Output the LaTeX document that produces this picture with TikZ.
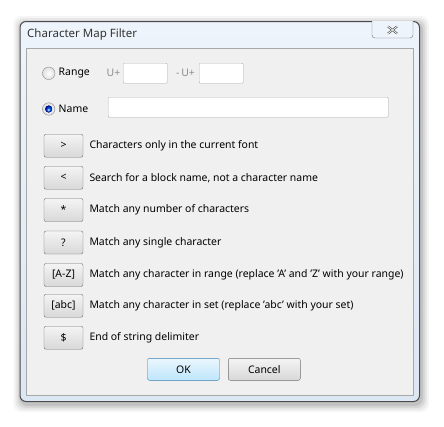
\documentclass[tikz,border=0pt]{standalone}
\usepackage{fontspec}
\setmainfont{Noto Sans}
\usetikzlibrary{shadings}
\definecolor{framebg}{HTML}{DCE7F4}
\definecolor{framehi}{HTML}{EEF4FB}
\definecolor{panelbg}{HTML}{F0F0F0}
\definecolor{panelln}{HTML}{A8A8A8}
\definecolor{btnln}{HTML}{707070}
\definecolor{btntop}{HTML}{F4F4F4}
\definecolor{btnbot}{HTML}{D8D8D8}
\definecolor{okln}{HTML}{3C7FB1}
\definecolor{oktop}{HTML}{EAF6FD}
\definecolor{okbot}{HTML}{BEE6FD}
\definecolor{graytxt}{HTML}{8D8D8D}
\definecolor{fieldln}{HTML}{ABADB3}
\tikzset{
  uifont/.style={font=\fontsize{10.45}{12}\selectfont},
  txt/.style={uifont, text=black, inner sep=0pt, anchor=west},
  btn/.style={draw=btnln, rounded corners=2pt, top color=btntop, bottom color=btnbot, minimum width=39pt, minimum height=23pt, inner sep=0pt, uifont},
  okbtn/.style={btn, draw=okln, top color=oktop, bottom color=okbot, minimum width=72pt, minimum height=22pt},
  cnbtn/.style={btn, minimum width=72pt, minimum height=22pt},
  field/.style={draw=fieldln, fill=white, rounded corners=1pt, inner sep=0pt, anchor=north west},
  radio/.style={circle, draw=gray!90, inner color=white, outer color=gray!25, minimum size=12.5pt, inner sep=0pt},
}
\begin{document}
\begin{tikzpicture}[x=1pt,y=-1pt]
\useasboundingbox (0,0) rectangle (444,426);
\fill[white] (0,0) rectangle (444,426);
% shadow
\foreach \d/\o in {8/0.04,6/0.05,4/0.07,2/0.09}{
  \fill[black, opacity=\o, rounded corners=8pt] (19.5-\d+2,21-\d+3) rectangle (419+\d+2,401+\d+3);
}
% window frame
\node[draw=black!70, line width=1pt, rounded corners=6pt, top color=framehi, bottom color=framebg, minimum width=399.5pt, minimum height=380pt, anchor=north west, inner sep=0pt] (win) at (19.5,21) {};
\node[txt, text=black!80, font=\fontsize{11.5}{13}\selectfont] (title) at (27,34.5) {Character Map Filter};
% close button
\draw[draw=black!55, fill=framehi, rounded corners=3pt] (372,21) -- (372,38) -- (413,38) -- (413,21);
\node[inner sep=0pt] (closebtn) at (392.5,30) {};
\draw[black!70, line width=2pt] (388,26.5) -- (397,33.5) (397,26.5) -- (388,33.5);
\draw[white, line width=0.7pt] (388,26.5) -- (397,33.5) (397,26.5) -- (388,33.5);
% inner panel
\node[draw=panelln, fill=panelbg, minimum width=387pt, minimum height=347pt, anchor=north west, inner sep=0pt] (panel) at (26,48) {};
% range row
\node[radio] (rrange) at (48.7,73.3) {};
\node[txt] (lrange) at (58.5,73.3) {Range};
\node[txt, text=graytxt] (u1) at (106.5,73.3) {U+};
\node[field, minimum width=44pt, minimum height=20pt] (f1) at (123,63) {};
\node[txt, text=graytxt] (u2) at (176,73.3) {-\,U+};
\node[field, minimum width=44pt, minimum height=20pt] (f2) at (199,63) {};
% name row
\node[radio] (rname) at (48.7,109) {};
\fill[inner color=cyan!60!blue, outer color=blue!60!black] (rname.center) circle (3.5pt);
\fill[white, opacity=0.6] ([yshift=-1.2pt]rname.center) circle (1.3pt);
\node[txt] (lname) at (58.5,109) {Name};
\node[field, minimum width=280pt, minimum height=20pt] (fname) at (108,97) {};
% help rows
\node[btn] (b1) at (63.5,145.7) {>};
\node[txt] (t1) at (89.3,145.7) {Characters only in the current font};
\node[btn] (b2) at (63.5,177.7) {<};
\node[txt] (t2) at (89.3,177.7) {Search for a block name, not a character name};
\node[btn] (b3) at (63.5,210) {*};
\node[txt] (t3) at (89.3,210) {Match any number of characters};
\node[btn] (b4) at (63.5,242.5) {?};
\node[txt] (t4) at (89.3,242.5) {Match any single character};
\node[btn] (b5) at (63.5,275) {[A-Z]};
\node[txt] (t5) at (89.3,275) {Match any character in range (replace 'A' and 'Z' with your range)};
\node[btn] (b6) at (63.5,305.7) {[abc]};
\node[txt] (t6) at (89.3,305.7) {Match any character in set (replace 'abc' with your set)};
\node[btn] (b7) at (63.5,337.7) {\$};
\node[txt] (t7) at (89.3,337.7) {End of string delimiter};
% OK / Cancel
\node[okbtn] (ok) at (183.5,369.3) {OK};
\node[cnbtn] (cancel) at (264.3,369.3) {Cancel};
\end{tikzpicture}
\end{document}
